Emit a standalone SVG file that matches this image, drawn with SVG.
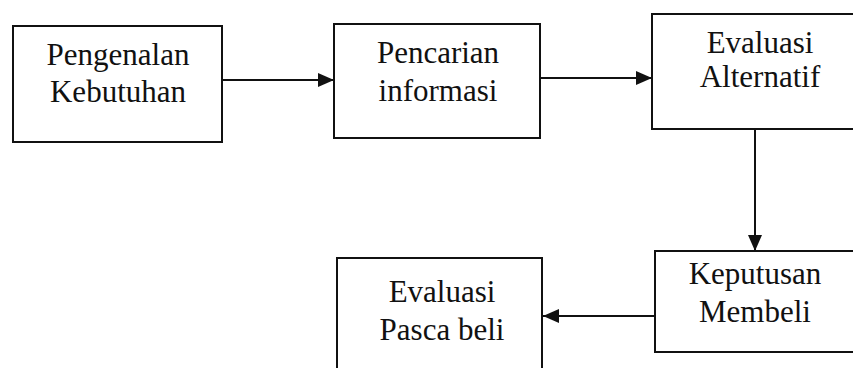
<svg xmlns="http://www.w3.org/2000/svg" width="853" height="368" viewBox="0 0 853 368">
<style>
.box{fill:#fff;stroke:#111;stroke-width:2}
.lbl{font-family:"Liberation Serif","Times New Roman",serif;font-size:31px;fill:#111;text-anchor:middle}
.edge{stroke:#111;stroke-width:2;fill:none;marker-end:url(#ah)}
</style>
<defs>
<marker id="ah" markerWidth="17" markerHeight="14" refX="16" refY="7" orient="auto" markerUnits="userSpaceOnUse">
<path d="M0,0 L16,7 L0,14 Z" fill="#111"/>
</marker>
</defs>
<rect width="853" height="368" fill="#fff"/>
<g id="connectors">
<line class="edge" x1="222" y1="80" x2="334" y2="80"/>
<line class="edge" x1="540" y1="78" x2="652" y2="78"/>
<line class="edge" x1="755" y1="129" x2="755" y2="251"/>
<line class="edge" x1="655" y1="316" x2="543" y2="316"/>
</g>
<g id="n1">
<rect class="box" x="13" y="26" width="209" height="116"/>
<text class="lbl" x="118" y="65">Pengenalan</text>
<text class="lbl" x="118" y="102">Kebutuhan</text>
</g>
<g id="n2">
<rect class="box" x="334" y="24" width="206" height="114"/>
<text class="lbl" x="438" y="63">Pencarian</text>
<text class="lbl" x="438" y="101">informasi</text>
</g>
<g id="n3">
<rect class="box" x="652" y="14" width="210" height="115"/>
<text class="lbl" x="760" y="53">Evaluasi</text>
<text class="lbl" x="760" y="87">Alternatif</text>
</g>
<g id="n4">
<rect class="box" x="655" y="251" width="210" height="101"/>
<text class="lbl" x="755" y="284">Keputusan</text>
<text class="lbl" x="755" y="322">Membeli</text>
</g>
<g id="n5">
<rect class="box" x="337" y="258" width="205" height="120"/>
<text class="lbl" x="442" y="302">Evaluasi</text>
<text class="lbl" x="442" y="340">Pasca beli</text>
</g>
</svg>
